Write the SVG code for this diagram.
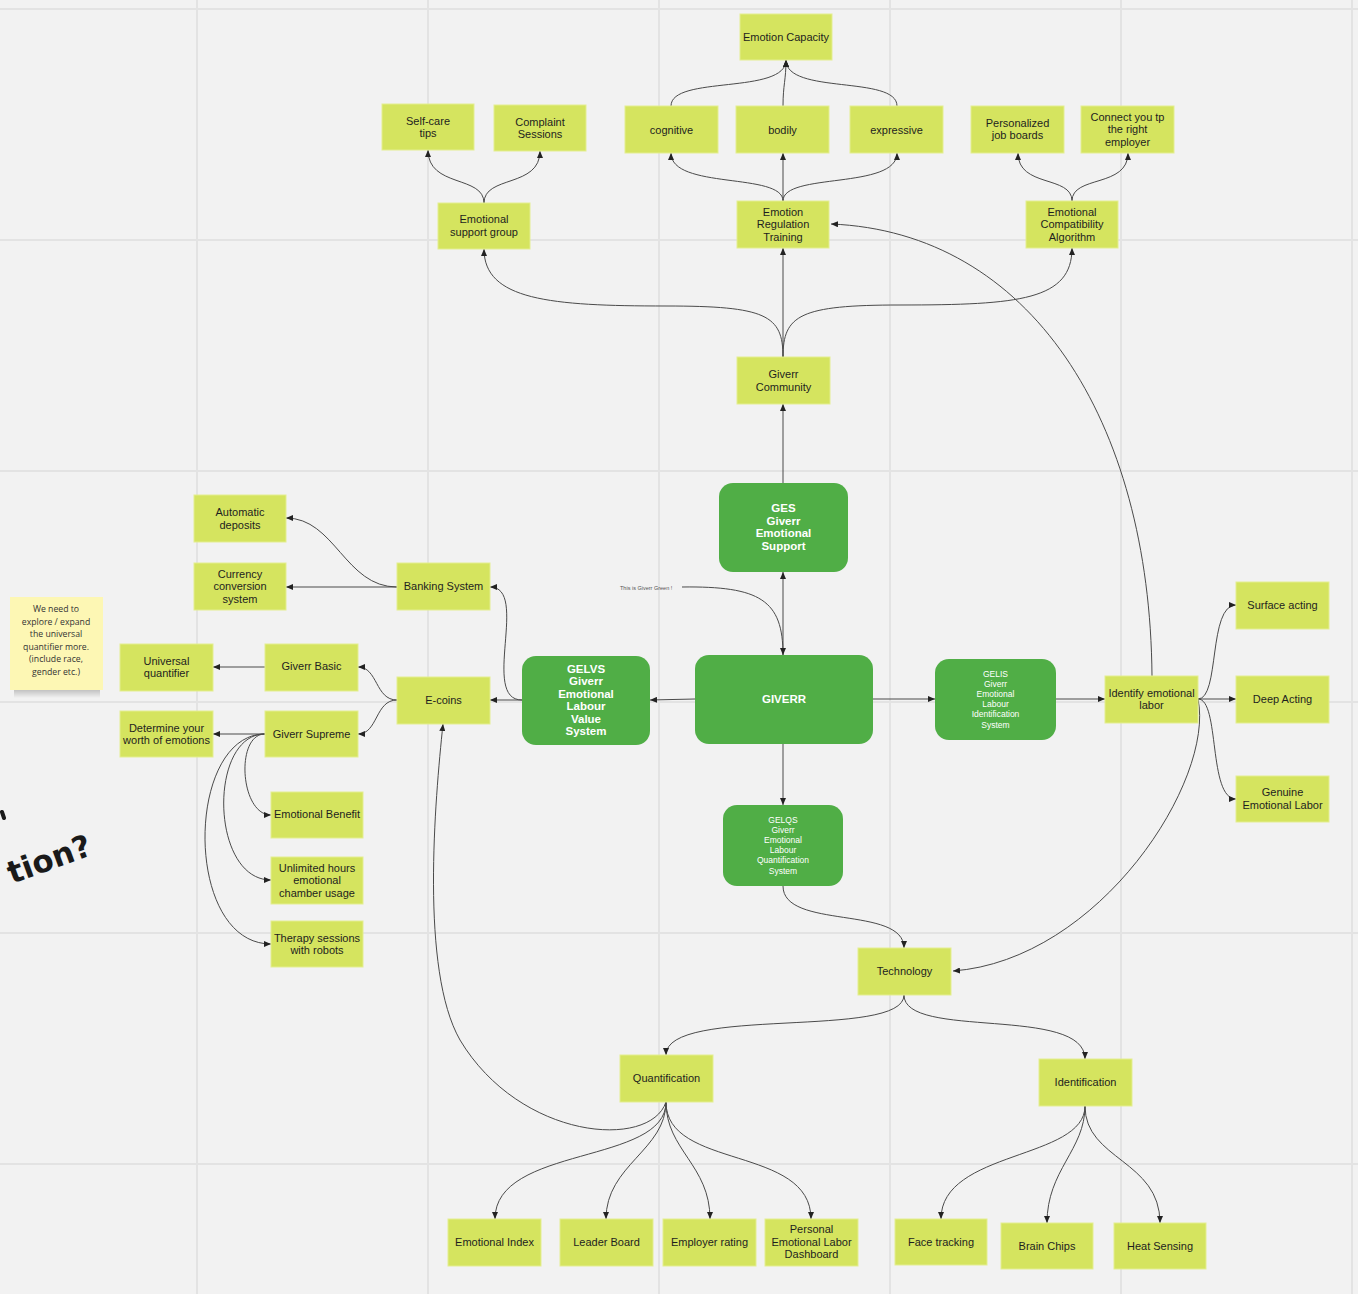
<svg xmlns="http://www.w3.org/2000/svg" width="1358" height="1294" viewBox="0 0 1358 1294">
<defs>
<style>
.n rect{fill:#d5e45f;stroke:#e3ee90;stroke-width:1}
.n text{font-family:"Liberation Sans",Arial,sans-serif;font-size:11px;fill:#1e1e1e;text-anchor:middle}
.g rect{fill:#50ae46}
.g text{font-family:"Liberation Sans",Arial,sans-serif;fill:#ffffff;text-anchor:middle}
.gb text{font-size:11.5px;font-weight:bold}
.gs text{font-size:8.5px}
.c path{fill:none;stroke:#4a4a4a;stroke-width:1;marker-end:url(#ah)}
.grid line{stroke:#e3e3e3;stroke-width:2}
</style>
<marker id="ah" markerUnits="userSpaceOnUse" markerWidth="8" markerHeight="6" refX="7" refY="3" orient="auto">
<path d="M0,0 L7,3 L0,6 z" fill="#222"/>
</marker>
<linearGradient id="sh" x1="0" y1="0" x2="0" y2="1">
<stop offset="0" stop-color="#000" stop-opacity="0.25"/>
<stop offset="1" stop-color="#000" stop-opacity="0"/>
</linearGradient>
</defs>
<rect x="0" y="0" width="1358" height="1294" fill="#f2f2f2"/>
<g class="grid">
<line x1="197" y1="0" x2="197" y2="1294"/>
<line x1="428" y1="0" x2="428" y2="1294"/>
<line x1="659" y1="0" x2="659" y2="1294"/>
<line x1="890" y1="0" x2="890" y2="1294"/>
<line x1="1121" y1="0" x2="1121" y2="1294"/>
<line x1="1352" y1="0" x2="1352" y2="1294"/>
<line x1="0" y1="9" x2="1358" y2="9"/>
<line x1="0" y1="240" x2="1358" y2="240"/>
<line x1="0" y1="471" x2="1358" y2="471"/>
<line x1="0" y1="702" x2="1358" y2="702"/>
<line x1="0" y1="933" x2="1358" y2="933"/>
<line x1="0" y1="1164" x2="1358" y2="1164"/>
</g>

<g id="handwriting">
<path d="M2,812 L4,818" stroke="#1a1a1a" stroke-width="4" stroke-linecap="round" fill="none"/>
<text x="12" y="884" transform="rotate(-20 12 884)" font-family="DejaVu Sans, sans-serif" font-weight="bold" font-size="31" fill="#1a1a1a">tion?</text>
</g>

<g id="sticky-note">
<rect x="14" y="688" width="86" height="10" fill="url(#sh)"/>
<rect x="10" y="597" width="93" height="93" fill="#fdf7b4"/>
<g font-family="'Open Sans',sans-serif" font-size="8.7px" fill="#333" text-anchor="middle">
<text x="56" y="612">We need to</text>
<text x="56" y="624.5">explore / expand</text>
<text x="56" y="637">the universal</text>
<text x="56" y="649.5">quantifier more.</text>
<text x="56" y="662">(include race,</text>
<text x="56" y="674.5">gender etc.)</text>
</g>
</g>

<g id="connectors" class="c">
<path d="M783,201 C783,172 671,190 671,153"/>
<path d="M783,201 L783,153"/>
<path d="M783,201 C783,172 897,190 897,153"/>
<path d="M671,106 C671,75 786,95 786,60"/>
<path d="M783,106 C783,85 786,80 786,60"/>
<path d="M897,106 C897,75 786,95 786,60"/>
<path d="M484,203 C484,175 428,188 428,150"/>
<path d="M484,203 C484,175 540,188 540,151"/>
<path d="M1072,201 C1072,175 1018,188 1018,153"/>
<path d="M1072,201 C1072,175 1128,188 1128,153"/>
<path d="M783,357 C783,315 766,306 666,306 C550,306 484,300 484,249"/>
<path d="M783,357 L783,248"/>
<path d="M783,357 C783,315 800,305 900,305 C1020,305 1072,300 1072,248"/>
<path d="M783,483 L783,404"/>
<path d="M783,655 L783,572"/>
<path d="M682,587 C760,586 783,600 783,655"/>
<path d="M695,699 L650,700"/>
<path d="M873,699 L935,699"/>
<path d="M783,744 L783,805"/>
<path d="M1056,699 L1105,699"/>
<path d="M522,700 C480,700 530,587 490,587"/>
<path d="M522,700 L490,700"/>
<path d="M397,587 C345,587 335,518 286,518"/>
<path d="M397,587 L286,587"/>
<path d="M397,700 C375,700 378,667 358,667"/>
<path d="M397,700 C375,700 378,734 358,734"/>
<path d="M265,667 L213,667"/>
<path d="M265,734 L213,734"/>
<path d="M265,734 C235,734 240,815 271,815"/>
<path d="M265,734 C208,734 210,880 271,880"/>
<path d="M265,734 C185,734 183,944 271,944"/>
<path d="M1198,699 C1220,699 1208,605 1236,605"/>
<path d="M1198,699 L1236,699"/>
<path d="M1198,699 C1220,699 1208,799 1236,799"/>
<path d="M1152,676 C1150,420 1030,232 831,224"/>
<path d="M1198,699 C1215,780 1100,960 953,971"/>
<path d="M783,886 C783,930 904,905 904,948"/>
<path d="M904,995 C904,1040 666,1005 666,1055"/>
<path d="M904,995 C904,1040 1085,1005 1085,1059"/>
<path d="M666,1102 C666,1165 495,1145 495,1219"/>
<path d="M666,1102 C666,1150 606,1165 606,1219"/>
<path d="M666,1102 C666,1150 710,1165 710,1219"/>
<path d="M666,1102 C666,1170 811,1145 811,1219"/>
<path d="M666,1102 C650,1150 520,1140 460,1040 C420,970 435,800 443,724"/>
<path d="M1085,1106 C1085,1160 941,1150 941,1219"/>
<path d="M1085,1106 C1085,1150 1047,1170 1047,1223"/>
<path d="M1085,1106 C1085,1160 1160,1160 1160,1223"/>
</g>
<text x="620" y="590" font-family="'Liberation Sans',Arial,sans-serif" font-size="5.5px" fill="#555">This is Giverr Green !</text>

<g id="emotion-capacity" class="n"><rect x="740" y="14" width="92" height="46"/><text x="786" y="41">Emotion Capacity</text></g>
<g id="self-care" class="n"><rect x="382" y="104" width="92" height="46"/><text x="428" y="124.5">Self-care</text><text x="428" y="137">tips</text></g>
<g id="complaint" class="n"><rect x="494" y="105" width="92" height="46"/><text x="540" y="125.5">Complaint</text><text x="540" y="138">Sessions</text></g>
<g id="cognitive" class="n"><rect x="625" y="106" width="93" height="47"/><text x="671.5" y="133.5">cognitive</text></g>
<g id="bodily" class="n"><rect x="736" y="106" width="93" height="47"/><text x="782.5" y="133.5">bodily</text></g>
<g id="expressive" class="n"><rect x="850" y="106" width="93" height="47"/><text x="896.5" y="133.5">expressive</text></g>
<g id="job-boards" class="n"><rect x="971" y="106" width="93" height="47"/><text x="1017.5" y="126.5">Personalized</text><text x="1017.5" y="139">job boards</text></g>
<g id="connect" class="n"><rect x="1081" y="106" width="93" height="47"/><text x="1127.5" y="120.5">Connect you tp</text><text x="1127.5" y="133">the right</text><text x="1127.5" y="145.5">employer</text></g>
<g id="support-group" class="n"><rect x="438" y="203" width="92" height="46"/><text x="484" y="223">Emotional</text><text x="484" y="235.5">support group</text></g>
<g id="ert" class="n"><rect x="737" y="201" width="92" height="47"/><text x="783" y="215.5">Emotion</text><text x="783" y="228">Regulation</text><text x="783" y="240.5">Training</text></g>
<g id="eca" class="n"><rect x="1026" y="201" width="92" height="47"/><text x="1072" y="215.5">Emotional</text><text x="1072" y="228">Compatibility</text><text x="1072" y="240.5">Algorithm</text></g>
<g id="community" class="n"><rect x="737" y="357" width="93" height="47"/><text x="783.5" y="378">Giverr</text><text x="783.5" y="390.5">Community</text></g>
<g id="auto-deposits" class="n"><rect x="194" y="495" width="92" height="47"/><text x="240" y="516">Automatic</text><text x="240" y="528.5">deposits</text></g>
<g id="currency" class="n"><rect x="194" y="563" width="92" height="47"/><text x="240" y="577.5">Currency</text><text x="240" y="590">conversion</text><text x="240" y="602.5">system</text></g>
<g id="banking" class="n"><rect x="397" y="563" width="93" height="47"/><text x="443.5" y="590">Banking System</text></g>
<g id="universal" class="n"><rect x="120" y="644" width="93" height="47"/><text x="166.5" y="664.5">Universal</text><text x="166.5" y="677">quantifier</text></g>
<g id="basic" class="n"><rect x="265" y="644" width="93" height="47"/><text x="311.5" y="670">Giverr Basic</text></g>
<g id="ecoins" class="n"><rect x="397" y="677" width="93" height="47"/><text x="443.5" y="704">E-coins</text></g>
<g id="determine" class="n"><rect x="120" y="711" width="93" height="46"/><text x="166.5" y="731.5">Determine your</text><text x="166.5" y="744">worth of emotions</text></g>
<g id="supreme" class="n"><rect x="265" y="711" width="93" height="46"/><text x="311.5" y="737.5">Giverr Supreme</text></g>
<g id="benefit" class="n"><rect x="271" y="792" width="92" height="46"/><text x="317" y="818">Emotional Benefit</text></g>
<g id="unlimited" class="n"><rect x="271" y="857" width="92" height="47"/><text x="317" y="871.5">Unlimited hours</text><text x="317" y="884">emotional</text><text x="317" y="896.5">chamber usage</text></g>
<g id="therapy" class="n"><rect x="271" y="921" width="92" height="46"/><text x="317" y="941.5">Therapy sessions</text><text x="317" y="954">with robots</text></g>
<g id="identify" class="n"><rect x="1105" y="676" width="93" height="47"/><text x="1151.5" y="696.5">Identify emotional</text><text x="1151.5" y="709">labor</text></g>
<g id="surface" class="n"><rect x="1236" y="582" width="93" height="47"/><text x="1282.5" y="609">Surface acting</text></g>
<g id="deep" class="n"><rect x="1236" y="676" width="93" height="47"/><text x="1282.5" y="703">Deep Acting</text></g>
<g id="genuine" class="n"><rect x="1236" y="776" width="93" height="46"/><text x="1282.5" y="796">Genuine</text><text x="1282.5" y="808.5">Emotional Labor</text></g>
<g id="technology" class="n"><rect x="858" y="948" width="93" height="47"/><text x="904.5" y="975">Technology</text></g>
<g id="quantification" class="n"><rect x="620" y="1055" width="93" height="47"/><text x="666.5" y="1082">Quantification</text></g>
<g id="identification" class="n"><rect x="1039" y="1059" width="93" height="47"/><text x="1085.5" y="1086">Identification</text></g>
<g id="emotional-index" class="n"><rect x="448" y="1219" width="93" height="47"/><text x="494.5" y="1245.5">Emotional Index</text></g>
<g id="leader-board" class="n"><rect x="560" y="1219" width="93" height="47"/><text x="606.5" y="1245.5">Leader Board</text></g>
<g id="employer-rating" class="n"><rect x="663" y="1219" width="93" height="47"/><text x="709.5" y="1245.5">Employer rating</text></g>
<g id="dashboard" class="n"><rect x="765" y="1219" width="93" height="47"/><text x="811.5" y="1233">Personal</text><text x="811.5" y="1245.5">Emotional Labor</text><text x="811.5" y="1258">Dashboard</text></g>
<g id="face-tracking" class="n"><rect x="895" y="1219" width="92" height="46"/><text x="941" y="1245.5">Face tracking</text></g>
<g id="brain-chips" class="n"><rect x="1001" y="1223" width="92" height="46"/><text x="1047" y="1249.5">Brain Chips</text></g>
<g id="heat-sensing" class="n"><rect x="1114" y="1223" width="92" height="46"/><text x="1160" y="1249.5">Heat Sensing</text></g>

<g id="ges" class="g gb"><rect x="719" y="483" width="129" height="89" rx="14"/><text x="783.5" y="512">GES</text><text x="783.5" y="524.5">Giverr</text><text x="783.5" y="537">Emotional</text><text x="783.5" y="549.5">Support</text></g>
<g id="gelvs" class="g gb"><rect x="522" y="656" width="128" height="89" rx="14"/><text x="586" y="672.5">GELVS</text><text x="586" y="685">Giverr</text><text x="586" y="697.5">Emotional</text><text x="586" y="710">Labour</text><text x="586" y="722.5">Value</text><text x="586" y="735">System</text></g>
<g id="giverr" class="g gb"><rect x="695" y="655" width="178" height="89" rx="14"/><text x="784" y="703">GIVERR</text></g>
<g id="gelis" class="g gs"><rect x="935" y="659" width="121" height="81" rx="14"/><text x="995.5" y="676.5">GELIS</text><text x="995.5" y="686.7">Giverr</text><text x="995.5" y="696.9">Emotional</text><text x="995.5" y="707.1">Labour</text><text x="995.5" y="717.3">Identification</text><text x="995.5" y="727.5">System</text></g>
<g id="gelqs" class="g gs"><rect x="723" y="805" width="120" height="81" rx="14"/><text x="783" y="822.5">GELQS</text><text x="783" y="832.7">Giverr</text><text x="783" y="842.9">Emotional</text><text x="783" y="853.1">Labour</text><text x="783" y="863.3">Quantification</text><text x="783" y="873.5">System</text></g>
</svg>
